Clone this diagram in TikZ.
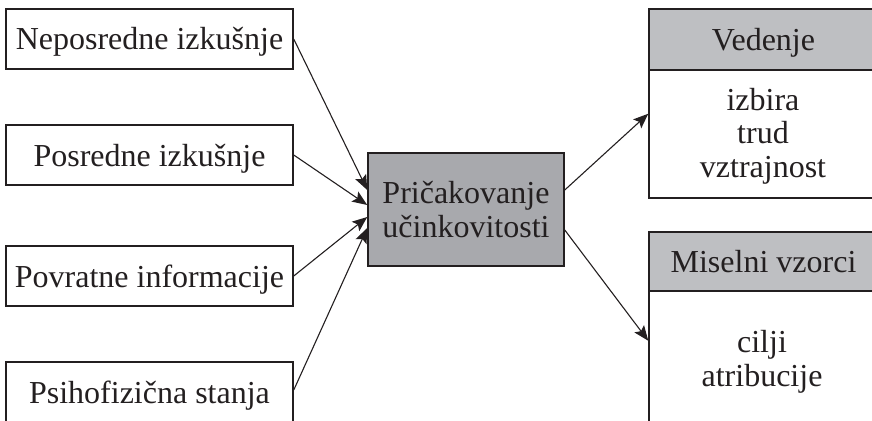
\documentclass[tikz,border=0pt]{standalone}
\usepackage{fontspec}
\setmainfont{Liberation Serif}
\usetikzlibrary{arrows.meta}
\definecolor{ink}{HTML}{231F20}
\definecolor{midgray}{HTML}{A8A9AD}
\definecolor{lightgray}{HTML}{BEBFC2}
\begin{document}
\begin{tikzpicture}[x=1pt,y=-1pt,
  every node/.style={text=ink,font=\fontsize{32}{33.5}\selectfont},
  srcbox/.style={draw=ink,line width=1.5pt,inner sep=0pt,minimum width=287pt,minimum height=60pt,text height=22pt,text depth=0pt},
  centerbox/.style={draw=ink,line width=1.5pt,fill=midgray,inner sep=0pt,minimum width=196pt,minimum height=113pt,align=center},
  headbox/.style={draw=ink,line width=1.5pt,fill=lightgray,inner sep=0pt,minimum width=229pt,text height=22pt,text depth=0pt},
  bodybox/.style={draw=ink,line width=1.5pt,inner sep=0pt,minimum width=229pt},
  bodytext/.style={align=center,inner sep=0pt},
  arr/.style={draw=ink,line width=1.1pt,-{Stealth[length=15pt,width=12pt,inset=3pt]}}]
\useasboundingbox (0,0) rectangle (872,420);
\clip (0,0) rectangle (872,420);
\node[srcbox] (s1) at (149.5,39) {Neposredne izkušnje};
\node[srcbox] (s2) at (149.5,155) {Posredne izkušnje};
\node[srcbox] (s3) at (149.5,276) {Povratne informacije};
\node[srcbox] (s4) at (149.5,392) {Psihofizična stanja};
\node[centerbox] (c) at (466,209.5) {\fontsize{32}{36}\selectfont Pričakovanje\\učinkovitosti};
\node[headbox,minimum height=61pt] (h1) at (763.5,39.5) {Vedenje};
\node[bodybox,minimum height=128pt] (b1) at (763.5,134) {};
\node[bodytext] (t1) at (763,136) {izbira\\trud\\vztrajnost};
\node[headbox,minimum height=59pt] (h2) at (763.5,261.5) {Miselni vzorci};
\node[bodybox,minimum height=139pt] (b2) at (763.5,360.5) {};
\node[bodytext] (t2) at (762,362) {\fontsize{32}{40}\selectfont cilji\\atribucije};
\draw[arr] (s1.east) -- ([yshift=19.5pt]c.west);
\draw[arr] (s2.east) -- ([yshift=4.5pt]c.west);
\draw[arr] (s3.east) -- ([yshift=-7.5pt]c.west);
\draw[arr] ([yshift=2pt]s4.east) -- ([yshift=-18.5pt]c.west);
\draw[arr] ([yshift=19.5pt]c.east) -- ([yshift=-43pt]h1.south west);
\draw[arr] ([yshift=-20.5pt]c.east) -- ([yshift=-49pt]h2.south west);
\end{tikzpicture}
\end{document}
